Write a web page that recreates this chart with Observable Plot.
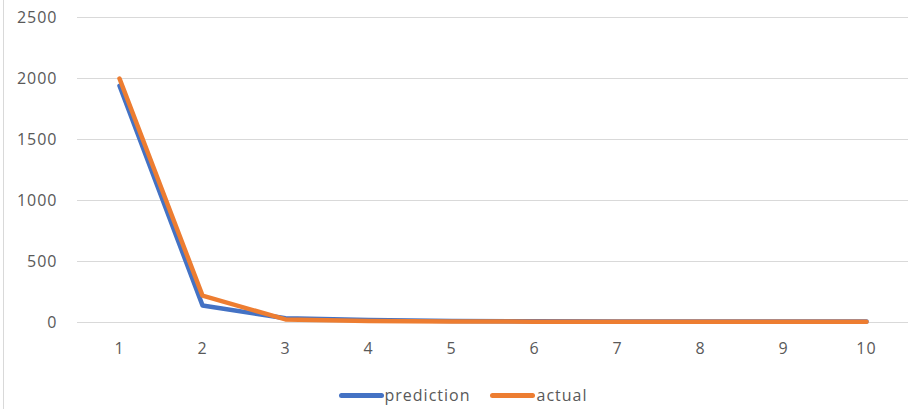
<!DOCTYPE html>
<html>
<head>
<meta charset="utf-8">
<script src="https://cdn.jsdelivr.net/npm/d3@7"></script>
<script src="https://cdn.jsdelivr.net/npm/@observablehq/plot@0.6"></script>
<style>
  html, body { margin: 0; padding: 0; background: #fff; }
  #wrap { position: relative; width: 920px; height: 409px; overflow: hidden; font-family: "Open Sans", "Noto Sans", sans-serif; }
  #border { position: absolute; left: 3px; top: 0; width: 0; height: 409px; border-left: 1px solid #d9d9d9; }
  #legend { position: absolute; left: 0; top: 384px; width: 920px; display: flex; justify-content: center; gap: 20px; font-size: 16px; letter-spacing: 1px; color: #595959; padding-left: 6px; box-sizing: border-box; line-height: 22px; }
  .item { display: flex; align-items: center; gap: 1px; }
  .sw { width: 45px; height: 5px; border-radius: 2.5px; }
</style>
</head>
<body>
<div id="wrap"><div id="border"></div><div id="chart"></div><div id="legend"></div></div>
<script>
const categories = [1, 2, 3, 4, 5, 6, 7, 8, 9, 10];
const prediction = [1940, 140, 35, 20, 12, 10, 9, 9, 9, 9];
const actual = [2000, 220, 25, 12, 8, 7, 6, 6, 6, 6];
const yTicks = [0, 500, 1000, 1500, 2000, 2500];
const seriesNames = ["prediction", "actual"];
const colors = ["#4472C4", "#ED7D31"];

const rows = [];
seriesNames.forEach((s, i) => {
  const vals = i === 0 ? prediction : actual;
  categories.forEach((c, j) => rows.push({series: s, x: String(c), y: vals[j]}));
});

const chart = Plot.plot({
  width: 920,
  height: 372,
  marginTop: 17,
  marginBottom: 50,
  marginLeft: 77,
  marginRight: 12,
  style: {fontFamily: "'Open Sans', 'Noto Sans', sans-serif", fontSize: "16px", letterSpacing: "1px", color: "#595959", background: "transparent"},
  x: {type: "point", domain: categories.map(String), padding: 0.5, label: null, tickSize: 0, tickPadding: 20},
  y: {domain: [0, 2500], ticks: yTicks, label: null, tickSize: 0, tickPadding: 20},
  color: {domain: seriesNames, range: colors},
  marks: [
    Plot.gridY(yTicks, {stroke: "#d9d9d9", strokeOpacity: 1, strokeWidth: 1}),
    Plot.axisY({ticks: yTicks, tickFormat: d3.format("d"), tickSize: 0, tickPadding: 20, fill: "#595959"}),
    Plot.axisX({tickSize: 0, tickPadding: 20, fill: "#595959"}),
    Plot.line(rows, {x: "x", y: "y", z: "series", stroke: "series", strokeWidth: 4.5, strokeLinecap: "round", strokeLinejoin: "round"})
  ]
});
document.getElementById("chart").appendChild(chart);

const legend = document.getElementById("legend");
seriesNames.forEach((s, i) => {
  const item = document.createElement("div");
  item.className = "item";
  const sw = document.createElement("div");
  sw.className = "sw";
  sw.style.background = colors[i];
  const t = document.createElement("span");
  t.textContent = s;
  item.appendChild(sw);
  item.appendChild(t);
  legend.appendChild(item);
});
</script>
</body>
</html>
